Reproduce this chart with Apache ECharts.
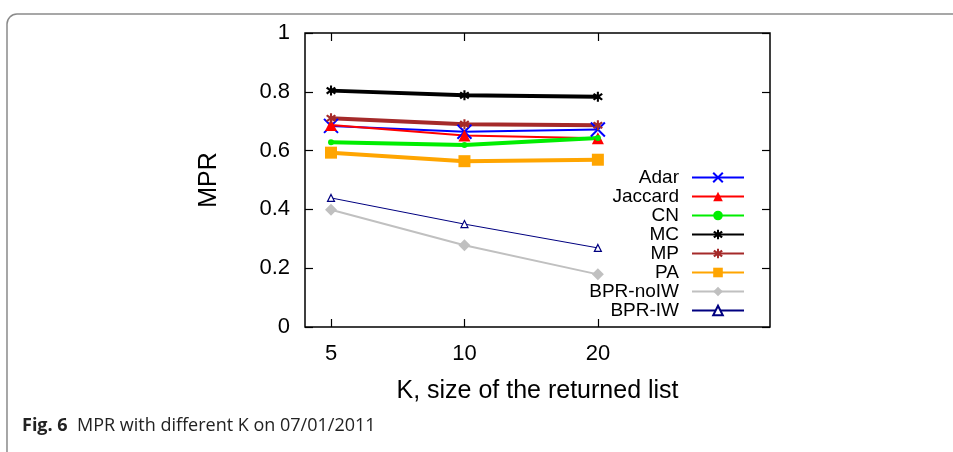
<!DOCTYPE html>
<html>
<head>
<meta charset="utf-8">
<script src="https://cdn.jsdelivr.net/npm/echarts@6/dist/echarts.min.js"></script>
<style>
  html, body { margin: 0; padding: 0; background: #fff; }
  #chart { width: 953px; height: 452px; }
</style>
</head>
<body>
<div id="chart"></div>
<script>
// K values on the x axis
const kLabels = ['5', '10', '20'];

// MPR per method
const adar     = [0.684, 0.664, 0.672];
const jaccard  = [0.687, 0.651, 0.642];
const cn       = [0.628, 0.619, 0.643];
const mc       = [0.804, 0.788, 0.783];
const mp       = [0.710, 0.690, 0.686];
const pa       = [0.593, 0.564, 0.569];
const bprNoIW  = [0.399, 0.278, 0.179];
const bprIW    = [0.439, 0.350, 0.269];

const FONT = 'Liberation Sans, Arial, sans-serif';
const asterisk = 'path://M4,0L6,0L6,3L8.5,1.2L9.8,2.8L7,5L9.8,7.2L8.5,8.8L6,7L6,10L4,10L4,7L1.5,8.8L0.2,7.2L3,5L0.2,2.8L1.5,1.2L4,3Z';

function mk(name, vals, color, width, symbol, size, extra) {
  return Object.assign({
    name: name,
    type: 'line',
    data: vals.map((v, i) => [i, v]),
    symbol: symbol,
    symbolSize: size,
    showAllSymbol: true,
    lineStyle: { color: color, width: width },
    itemStyle: { color: color },
    emphasis: { disabled: true },
    z: 3
  }, extra || {});
}

const series = [
  mk('Adar', adar, '#0000ff', 2, 'path://M0,0L10,10M10,0L0,10', 14,
     { itemStyle: { color: 'none', borderColor: '#0000ff', borderWidth: 2 } }),
  mk('Jaccard', jaccard, '#ff0000', 2, 'triangle', 12),
  mk('CN', cn, '#00ee00', 4, 'circle', 6),
  mk('MC', mc, '#000000', 4, asterisk, 10),
  mk('MP', mp, '#a52a2a', 4, asterisk, 10),
  mk('PA', pa, '#ffa500', 4, 'rect', 12),
  mk('BPR-noIW', bprNoIW, '#c0c0c0', 2, 'diamond', 12),
  mk('BPR-IW', bprIW, '#000080', 1, 'triangle', 7,
     { itemStyle: { color: '#ffffff', borderColor: '#000080', borderWidth: 1.2 } })
];

const tickCfg = { show: true, inside: true, length: 8, lineStyle: { color: '#000', width: 1.2 } };
const noLine = { show: false, onZero: false };

const option = {
  backgroundColor: '#fff',
  animation: false,
  grid: {
    left: 305, top: 33, right: 183, bottom: 125,
    show: true, borderColor: '#000', borderWidth: 1.5, backgroundColor: 'transparent'
  },
  xAxis: [{
    type: 'value',
    min: -0.195, max: 3.29,
    position: 'bottom',
    splitLine: { show: false },
    axisLine: noLine,
    axisTick: Object.assign({ customValues: [0, 1, 2] }, tickCfg),
    axisLabel: {
      customValues: [0, 1, 2],
      formatter: v => kLabels[Math.round(v)],
      color: '#000', fontSize: 22, fontFamily: FONT, margin: 16
    },
    name: 'K, size of the returned list',
    nameLocation: 'middle',
    nameGap: 52,
    nameTextStyle: { color: '#000', fontSize: 25, fontFamily: FONT }
  }, {
    type: 'value',
    min: -0.195, max: 3.29,
    position: 'top',
    splitLine: { show: false },
    axisLine: noLine,
    axisTick: Object.assign({ customValues: [0, 1, 2] }, tickCfg),
    axisLabel: { show: false }
  }],
  yAxis: [{
    type: 'value',
    min: 0, max: 1, interval: 0.2,
    position: 'left',
    splitLine: { show: false },
    axisLine: noLine,
    axisTick: tickCfg,
    axisLabel: {
      color: '#000', fontSize: 22, fontFamily: FONT, margin: 15,
      formatter: v => String(+v.toFixed(1))
    },
    name: 'MPR',
    nameLocation: 'middle',
    nameGap: 83,
    nameRotate: 90,
    nameTextStyle: { color: '#000', fontSize: 25, fontFamily: FONT }
  }, {
    type: 'value',
    min: 0, max: 1, interval: 0.2,
    position: 'right',
    splitLine: { show: false },
    axisLine: noLine,
    axisTick: tickCfg,
    axisLabel: { show: false }
  }],
  legend: {
    data: series.map(s => s.name),
    orient: 'vertical',
    right: 208,
    top: 168,
    align: 'right',
    itemWidth: 52,
    itemHeight: 12,
    itemGap: 0,
    padding: 0,
    selectedMode: false,
    textStyle: { color: '#000', fontSize: 19, lineHeight: 19, fontFamily: FONT, padding: [0, 8, 0, 0] }
  },
  graphic: [{
    type: 'rect',
    shape: { x: 7, y: 14, width: 980, height: 460, r: 10 },
    style: { fill: 'none', stroke: '#8a8a8a', lineWidth: 1.5 },
    silent: true
  }, {
    type: 'text',
    left: 22, top: 417,
    style: {
      rich: {
        b: { fontWeight: 'bold', fontSize: 18, fontFamily: 'Open Sans, sans-serif', fill: '#222' },
        n: { fontSize: 18, fontFamily: 'Open Sans, sans-serif', fill: '#222' }
      },
      text: '{b|Fig. 6}{n|  MPR with different K on 07/01/2011}'
    }
  }],
  series: series
};

echarts.init(document.getElementById('chart'), null, { renderer: 'canvas' }).setOption(option);
</script>
</body>
</html>
